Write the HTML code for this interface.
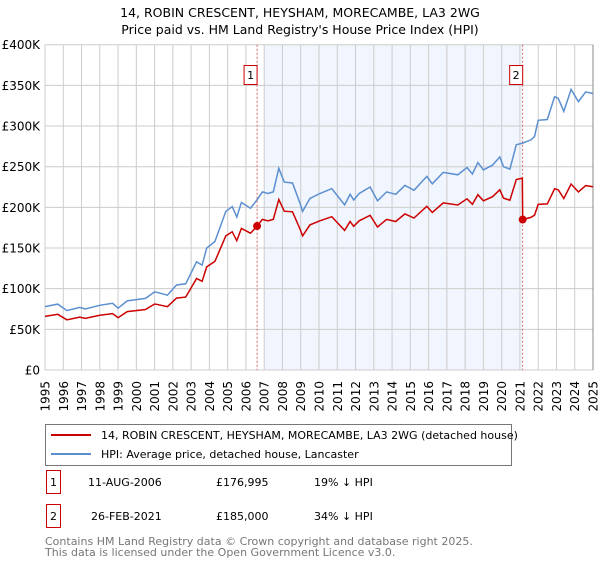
<!DOCTYPE html>
<html><head><meta charset="utf-8"><style>
body{margin:0;background:#fff;font-family:"DejaVu Sans","Liberation Sans",sans-serif;}
svg text{font-family:"DejaVu Sans","Liberation Sans",sans-serif;}
</style></head><body>
<svg id="chart" width="600" height="560" xmlns="http://www.w3.org/2000/svg">
<text x="300" y="17" font-size="12.5" text-anchor="middle">14, ROBIN CRESCENT, HEYSHAM, MORECAMBE, LA3 2WG</text>
<text x="300" y="34" font-size="12.5" text-anchor="middle">Price paid vs. HM Land Registry's House Price Index (HPI)</text>
<g id="plot"></g>
<g>
<rect x="45.5" y="424.5" width="466" height="41" fill="#fff" stroke="#777"/>
<line x1="51" y1="435" x2="91" y2="435" stroke="#cc0000" stroke-width="2"/>
<text x="101" y="439" font-size="11">14, ROBIN CRESCENT, HEYSHAM, MORECAMBE, LA3 2WG (detached house)</text>
<line x1="51" y1="454" x2="91" y2="454" stroke="#5b8fd0" stroke-width="2"/>
<text x="101" y="458" font-size="11">HPI: Average price, detached house, Lancaster</text>
</g>
<g font-size="11">
<rect x="46.5" y="470.5" width="14" height="23" fill="#fff" stroke="#cc0000"/>
<text x="53.5" y="486" text-anchor="middle">1</text>
<text x="88" y="486">11-AUG-2006</text>
<text x="216" y="486">£176,995</text>
<text x="314" y="486">19% ↓ HPI</text>
<rect x="46.5" y="504.5" width="14" height="23" fill="#fff" stroke="#cc0000"/>
<text x="53.5" y="520" text-anchor="middle">2</text>
<text x="91" y="520">26-FEB-2021</text>
<text x="216" y="520">£185,000</text>
<text x="314" y="520">34% ↓ HPI</text>
</g>
<text x="45" y="545" font-size="11" fill="#777">Contains HM Land Registry data © Crown copyright and database right 2025.</text>
<text x="45" y="556" font-size="11" fill="#777">This data is licensed under the Open Government Licence v3.0.</text>
</svg>
<script>
const hpiYears=[1995,1995.7,1996.2,1996.9,1997.2,1998.0,1998.7,1999.0,1999.5,2000.5,2001.0,2001.2,2001.7,2002.2,2002.7,2003.3,2003.6,2003.85,2004.3,2004.9,2005.25,2005.5,2005.75,2006.25,2006.6,2006.9,2007.2,2007.5,2007.8,2008.1,2008.55,2008.96,2009.1,2009.5,2010.05,2010.7,2011.4,2011.7,2011.9,2012.2,2012.8,2013.2,2013.7,2014.2,2014.7,2015.2,2015.9,2016.2,2016.8,2017.6,2018.1,2018.4,2018.7,2019.0,2019.5,2019.9,2020.1,2020.45,2020.8,2021.15,2021.6,2021.8,2022.0,2022.5,2022.9,2023.1,2023.4,2023.8,2024.2,2024.6,2025.0];
const hpiValues=[78,81,73,77,75,79.5,82,76,85,88,96,95,92,104.5,106,133,129,150,158,195,201,188,206,199,209,219,217,219,248,231,230,205,195,211,217,223,203,216,209,217,225,208,219,216,227,221,238,229,243,240,249,241,255,246,252,262,250,247,277,279,283,287,307,308,336,334,318,345,330,342,340];
const saleYears=[2006.61,2021.15];
const salePrices=[176.995,185];
const saleLabels=["1","2"];
const yTicks=[0,50,100,150,200,250,300,350,400];
const yTickLabels=["£0","£50K","£100K","£150K","£200K","£250K","£300K","£350K","£400K"];
const xTickYears=[1995,1996,1997,1998,1999,2000,2001,2002,2003,2004,2005,2006,2007,2008,2009,2010,2011,2012,2013,2014,2015,2016,2017,2018,2019,2020,2021,2022,2023,2024,2025];

const X0=45,X1=593,Y0=370,Y1=44.7;
const xs=y=>X0+(y-1995)/30*(X1-X0);
const ys=v=>Y0-v/400*(Y0-Y1);
const NS="http://www.w3.org/2000/svg";
const g=document.getElementById('plot');
function mk(t,a){const e=document.createElementNS(NS,t);for(const k in a)e.setAttribute(k,a[k]);g.appendChild(e);return e;}
function hpiAt(y){for(let i=1;i<hpiYears.length;i++){if(y<=hpiYears[i]){const t=(y-hpiYears[i-1])/(hpiYears[i]-hpiYears[i-1]);return hpiValues[i-1]+t*(hpiValues[i]-hpiValues[i-1]);}}return hpiValues[hpiValues.length-1];}

let sh=mk('rect',{x:xs(2007),y:Y1,width:xs(saleYears[1])-xs(2007),height:Y0-Y1,fill:'#eef3fc',opacity:0.8});


yTicks.forEach((v,i)=>{
 let l=mk('line',{x1:X0,x2:X1,y1:ys(v),y2:ys(v),stroke:'#ccc'});
 
 
 let t=mk('text',{x:X0-5,y:ys(v)+4.5,'font-size':12,'text-anchor':'end'});t.textContent=yTickLabels[i];
 
 
});
xTickYears.forEach(yr=>{
 let l=mk('line',{x1:xs(yr),x2:xs(yr),y1:Y1,y2:Y0,stroke:'#ccc'});
 
 
 let t=mk('text',{x:0,y:0,'font-size':12,'text-anchor':'end',transform:`translate(${xs(yr)+4.5},381) rotate(-90)`});t.textContent=yr;
 
 
});
let ax=mk('line',{x1:X1,x2:X1,y1:Y1,y2:Y0,stroke:'#888'});


saleYears.forEach((sy,i)=>{
 let l=mk('line',{x1:xs(sy),x2:xs(sy),y1:Y1,y2:Y0,stroke:'#e06666','stroke-dasharray':'2,2'});
 
 
 let r=mk('rect',{x:xs(sy)-13,y:65.5,width:13,height:19,fill:'#fff',stroke:'#cc0000'});
 
 
 let t=mk('text',{x:xs(sy)-6.5,y:79,'font-size':11,'text-anchor':'middle'});t.textContent=saleLabels[i];
 
 
});
let bp=hpiYears.map((y,i)=>`${i?'L':'M'}${xs(y).toFixed(1)},${ys(hpiValues[i]).toFixed(1)}`).join('');
let bl=mk('path',{d:bp,fill:'none',stroke:'#5b8fd0','stroke-width':1.5});


const r1=salePrices[0]/hpiAt(saleYears[0]), r2=salePrices[1]/hpiAt(saleYears[1]);
let pts=[];
hpiYears.forEach((y,i)=>{ if(y<saleYears[1]) pts.push([y,hpiValues[i]*r1]); });
pts.push([saleYears[1]-0.02,hpiAt(saleYears[1])*r1]);
pts.push([saleYears[1],salePrices[1]]);
hpiYears.forEach((y,i)=>{ if(y>saleYears[1]) pts.push([y,hpiValues[i]*r2]); });
let rp=pts.map((p,i)=>`${i?'L':'M'}${xs(p[0]).toFixed(1)},${ys(p[1]).toFixed(1)}`).join('');
let rl=mk('path',{d:rp,fill:'none',stroke:'#cc0000','stroke-width':1.5});


saleYears.forEach((sy,i)=>{
 let c=mk('circle',{cx:xs(sy),cy:ys(salePrices[i]),r:4,fill:'#cc0000'});
 
 
});
</script>
</body></html>
